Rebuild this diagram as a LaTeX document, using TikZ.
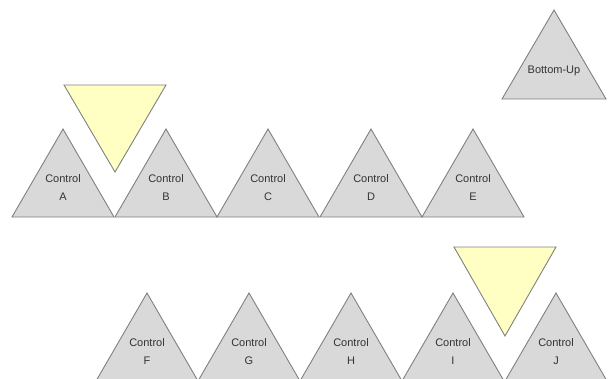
\documentclass[tikz,border=0pt]{standalone}
\usepackage{fontspec}
\setmainfont{Liberation Sans}
\definecolor{trifill}{HTML}{D9D9D9}
\definecolor{triline}{HTML}{808080}
\definecolor{yelfill}{HTML}{FFFFC4}
\definecolor{txt}{HTML}{333333}
\tikzset{
  ctri/.style={fill=trifill, draw=triline, line width=0.9pt, line join=miter},
  ytri/.style={fill=yelfill, draw=triline, line width=0.9pt, line join=miter},
  lbl/.style={text=txt, font=\fontsize{11}{18}\selectfont, align=center, inner sep=0pt}
}
\newcommand\ctrimk[4]{%
  \draw[ctri] (#1-51,#2+88) -- (#1,#2) -- (#1+51,#2+88) -- cycle;
  \node[lbl] (#3) at (#1,#2+59) {Control\\#4};
}
\begin{document}
\begin{tikzpicture}[x=1pt,y=-1pt]
\useasboundingbox (0,0) rectangle (610,378);
\clip (0,0) rectangle (610,378);
% row 1
\ctrimk{63}{129}{cA}{A}
\ctrimk{166}{129}{cB}{B}
\ctrimk{268}{129}{cC}{C}
\ctrimk{371}{129}{cD}{D}
\ctrimk{473}{129}{cE}{E}
\draw[ytri] (64,85) -- (166,85) -- (115,172) -- cycle;
% bottom-up
\draw[ctri] (502,99) -- (554,10) -- (606,99) -- cycle;
\node[lbl] (bu) at (554,71) {Bottom-Up};
% row 2
\ctrimk{147}{293}{cF}{F}
\ctrimk{249}{293}{cG}{G}
\ctrimk{351}{293}{cH}{H}
\ctrimk{453}{293}{cI}{I}
\ctrimk{556}{293}{cJ}{J}
\draw[ytri] (454,247) -- (556,247) -- (505,336) -- cycle;
\end{tikzpicture}
\end{document}
